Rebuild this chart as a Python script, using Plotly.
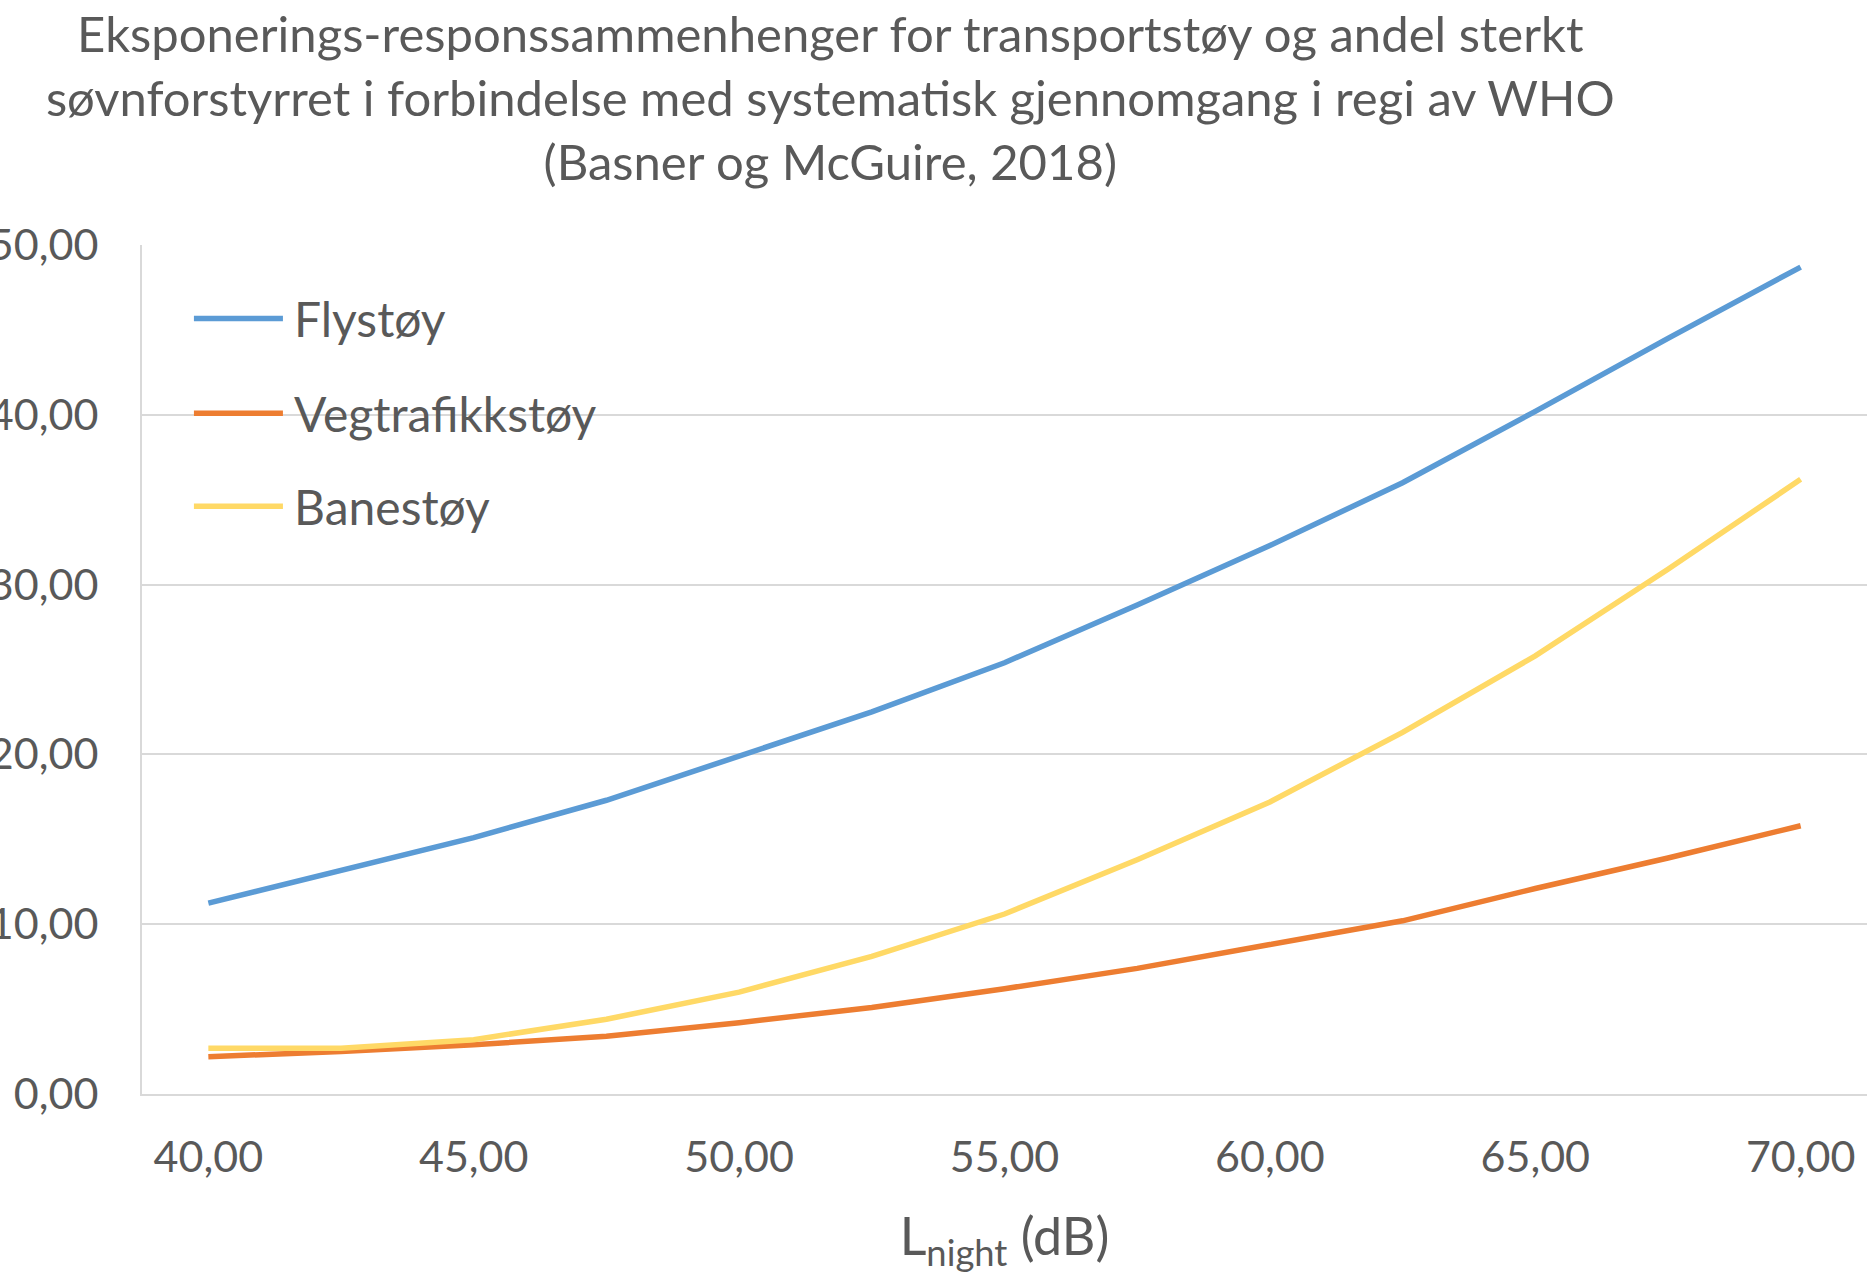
import plotly.graph_objects as go

# Night-time noise level (dB), one point every 2.5 dB
lnight = [40.0, 42.5, 45.0, 47.5, 50.0, 52.5, 55.0, 57.5, 60.0, 62.5, 65.0, 67.5, 70.0]

# Share highly sleep-disturbed (%) per noise source
fly = [11.24, 13.2, 15.1, 17.3, 19.9, 22.5, 25.4, 28.8, 32.3, 36.0, 40.2, 44.5, 48.7]
veg = [2.2, 2.5, 2.9, 3.4, 4.2, 5.1, 6.2, 7.4, 8.8, 10.2, 12.1, 13.9, 15.8]
bane = [2.7, 2.7, 3.2, 4.4, 6.0, 8.1, 10.6, 13.8, 17.2, 21.3, 25.8, 30.9, 36.2]

series_names = ["Flystøy", "Vegtrafikkstøy", "Banestøy"]
series_values = [fly, veg, bane]
series_colors = ["#5B9BD5", "#ED7D31", "#FFD966"]

x_ticks = [40, 45, 50, 55, 60, 65, 70]
y_ticks = [0, 10, 20, 30, 40, 50]

title_text = ("Eksponerings-responssammenhenger for transportstøy og andel sterkt<br>"
              "søvnforstyrret i forbindelse med systematisk gjennomgang i regi av WHO<br>"
              "(Basner og McGuire, 2018)")

FONT = "Lato, 'Open Sans', sans-serif"
TEXT = "#595959"
GRID = "#D9D9D9"

fig = go.Figure()
for name, vals, col in zip(series_names, series_values, series_colors):
    fig.add_trace(go.Scatter(
        x=lnight, y=vals, name=name, mode="lines",
        line=dict(color=col, width=5.5), showlegend=False,
    ))

# Legend drawn in the upper-left corner of the plot area with long line keys
legend_y = [0.9135, 0.8017, 0.6922]
for name, col, ly in zip(series_names, series_colors, legend_y):
    fig.add_shape(type="line", xref="paper", yref="paper",
                  x0=0.0301, x1=0.0817, y0=ly, y1=ly,
                  line=dict(color=col, width=5.5))
    fig.add_annotation(xref="paper", yref="paper", x=0.087, y=ly,
                       text=name, showarrow=False, xanchor="left", yanchor="middle",
                       font=dict(family=FONT, size=48, color=TEXT))

fig.update_layout(
    width=1870, height=1274,
    margin=dict(l=142, r=3, t=245, b=180),
    paper_bgcolor="white", plot_bgcolor="white",
    separators=", ",
    font=dict(family=FONT, color=TEXT),
    title=dict(text=title_text, xref="container", x=0.444, xanchor="center",
               yref="container", y=0.9588, yanchor="middle",
               font=dict(family=FONT, size=49, color=TEXT)),
)

fig.update_xaxes(
    range=[38.75, 71.25], tickvals=x_ticks, tickformat=".2f",
    showgrid=False, zeroline=False, showline=True, linecolor=GRID, linewidth=2,
    ticks="", ticklabelstandoff=24, automargin=False,
    tickfont=dict(family=FONT, size=43, color=TEXT),
    title=dict(text="L<sub>night</sub> (dB)", standoff=41,
               font=dict(family=FONT, size=52, color=TEXT)),
)
fig.update_yaxes(
    range=[0, 50], tickvals=y_ticks, tickformat=".2f",
    showgrid=True, gridcolor=GRID, gridwidth=2, zeroline=False,
    showline=True, linecolor=GRID, linewidth=2,
    ticks="", ticklabelstandoff=33, automargin=False,
    tickfont=dict(family=FONT, size=43, color=TEXT),
)

fig.write_html("out.html")
